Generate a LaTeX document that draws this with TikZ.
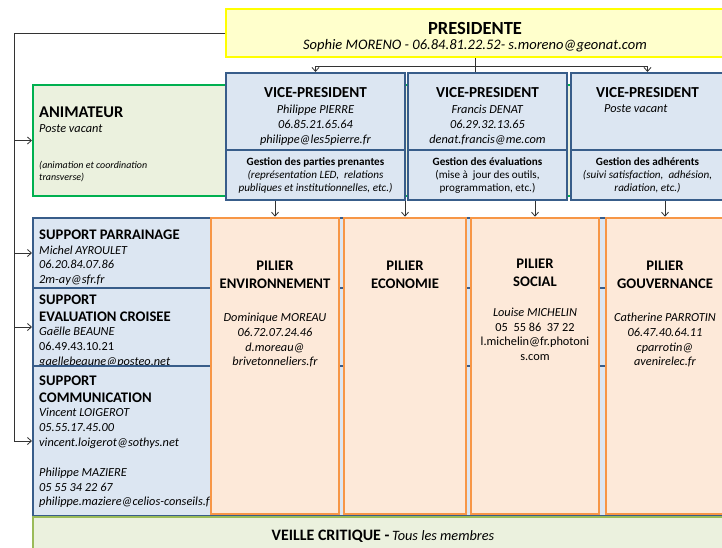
\documentclass[tikz,border=0pt]{standalone}
\usepackage{fontspec}
\setmainfont{Carlito}
\usetikzlibrary{positioning,fit,arrows.meta}

\definecolor{jauneF}{HTML}{FFFFCC}
\definecolor{jauneB}{HTML}{FFFF00}
\definecolor{bleuF}{HTML}{DCE6F2}
\definecolor{bleuB}{HTML}{385D8A}
\definecolor{vertF}{HTML}{EBF1DE}
\definecolor{vertB}{HTML}{00B050}
\definecolor{olivB}{HTML}{9BBB59}
\definecolor{orangeF}{HTML}{FDE9D9}
\definecolor{orangeB}{HTML}{F79646}

\newcommand{\fpres}{\fontsize{15.8}{18}\selectfont\bfseries}
\newcommand{\fvice}{\fontsize{13}{15.4}\selectfont\bfseries}
\newcommand{\ftitre}{\fontsize{12.5}{15.2}\selectfont\bfseries}
\newcommand{\fcorps}{\fontsize{10.5}{12.7}\selectfont}
\newcommand{\fpetit}{\fontsize{9.5}{11.5}\selectfont}
\newcommand{\fnote}{\fontsize{8.5}{10.2}\selectfont}

\begin{document}
\begin{tikzpicture}[x=0.03cm,y=-0.03cm,
	every node/.style={inner sep=0pt},
	cadre/.style={line width=1.7pt},
	pres/.style={cadre,draw=jauneB,fill=jauneF},
	vice/.style={cadre,draw=bleuB,fill=bleuF},
	anim/.style={cadre,draw=vertB,fill=vertF},
	veille/.style={cadre,draw=olivB,fill=vertF},
	pilier/.style={line width=2.2pt,draw=orangeB,fill=orangeF},
	txt/.style={font=\fcorps,align=center,anchor=north},
	txtg/.style={font=\fcorps,align=left,anchor=north west},
	lien/.style={line width=0.7pt,black!80},
	fleche/.style={lien,-{Straight Barb[length=3.4pt,width=6pt]}}]
	\useasboundingbox (0,0) rectangle (722,547);
	\clip (0,0) rectangle (722,547);

	%% presidente
	\node[pres,fit={(226,9) (724,57)}] (p0) {};
	\node[font=\fpres] (p0a) at (475,28) {PRESIDENTE};
	\node[font=\fontsize{12.4}{14}\selectfont\itshape] (p0b) at (475,46) {Sophie MORENO - 06.84.81.22.52- s.moreno@geonat.com};

	%% animateur
	\node[anim,fit={(33,85) (726,196)}] (an) {};
	\node[txtg] (ana) at (39,107) {{\fontsize{14}{15}\selectfont\bfseries ANIMATEUR}\\ \textit{Poste vacant}};
	\node[txtg,font=\fnote\itshape] (anb) at (39,161) {(animation et coordination\\ transverse)};

	%% vice-presidents
	\node[vice,fit={(226,73) (405,150)}] (v1) {};
	\node[vice,fit={(226,150) (405,200)}] (g1) {};
	\node[vice,fit={(408,73) (567,150)}] (v2) {};
	\node[vice,fit={(408,150) (567,200)}] (g2) {};
	\node[vice,fit={(571,73) (724,150)}] (v3) {};
	\node[vice,fit={(571,150) (724,200)}] (g3) {};

	\node[txt,below=12.9pt of v1.north] (v1a) {{\fvice VICE-PRESIDENT}\\[1pt] \textit{Philippe PIERRE}\\ \textit{06.85.21.65.64}\\ \textit{philippe@les5pierre.fr}};
	\node[txt,below=12.9pt of v2.north] (v2a) {{\fvice VICE-PRESIDENT}\\[1pt] \textit{Francis DENAT}\\ \textit{06.29.32.13.65}\\ \textit{denat.francis@me.com}};
	\node[txt,below=12.9pt of v3.north] (v3a) {{\fvice VICE-PRESIDENT}};
	\node[font=\fcorps\itshape,anchor=west] (v3b) at (604,109) {Poste vacant};

	\node[txt,font=\fpetit,below=6.8pt of g1.north] (g1a) {\textbf{Gestion des parties prenantes}\\ \textit{(représentation LED,~ relations}\\ \textit{publiques et institutionnelles, etc.)}};
	\node[txt,font=\fpetit,below=6.8pt of g2.north] (g2a) {\textbf{Gestion des évaluations}\\ (mise à~ jour des outils,\\ programmation, etc.)};
	\node[txt,font=\fpetit,below=6.8pt of g3.north] (g3a) {\textbf{Gestion des adhérents}\\ \textit{(suivi satisfaction,~ adhésion,}\\ \textit{radiation, etc.)}};

	%% supports
	\node[vice,fit={(33,218) (726,288)}] (s1) {};
	\node[txtg] (s1a) at (39,230) {{\ftitre SUPPORT PARRAINAGE}\\[-0.6pt] \textit{Michel AYROULET}\\ \textit{06.20.84.07.86}\\ \textit{2m-ay@sfr.fr}};
	\node[vice,fit={(33,288) (726,366)}] (s2) {};
	\node[txtg] (s2a) at (39,294.8) {{\ftitre SUPPORT}\\[1.8pt] {\ftitre EVALUATION CROISEE}\\[-0.6pt] \textit{Gaëlle BEAUNE}\\ 06.49.43.10.21\\ \textit{gaellebeaune@posteo.net}};
	\node[vice,fit={(33,366) (726,516)}] (s3) {};
	\node[txtg] (s3a) at (39,375.6) {{\ftitre SUPPORT}\\[1.8pt] {\ftitre COMMUNICATION}\\[-0.6pt] \textit{Vincent LOIGEROT}\\ \textit{05.55.17.45.00}\\ \textit{vincent.loigerot@sothys.net}\\[12.7pt] \textit{Philippe MAZIERE}\\ \textit{05 55 34 22 67}\\ \textit{philippe.maziere@celios-conseils.fr}};

	%% piliers
	\node[pilier,fit={(211,218) (339,514)}] (l1) {};
	\node[pilier,fit={(344,218) (466,514)}] (l2) {};
	\node[pilier,fit={(471,218) (599,514)}] (l3) {};
	\node[pilier,fit={(606,218) (724,514)}] (l4) {};
	\node[txt,font=\ftitre,below=38pt of l1.north] (l1a) {PILIER\\ ENVIRONNEMENT};
	\node[txt,font=\ftitre,below=38pt of l2.north] (l2a) {PILIER\\ ECONOMIE};
	\node[txt,font=\ftitre,below=36.2pt of l3.north] (l3a) {PILIER\\ SOCIAL};
	\node[txt,font=\ftitre,below=38pt of l4.north] (l4a) {PILIER\\ GOUVERNANCE};
	\node[txt,font=\fcorps\itshape,below=20pt of l1a] (l1b) {Dominique MOREAU\\ 06.72.07.24.46\\ d.moreau@\\ brivetonneliers.fr};
	\node[txt,below=17.5pt of l3a] (l3b) {\textit{Louise MICHELIN}\\ 05~ 55 86~ 37 22\\ l.michelin@fr.photoni\\ s.com};
	\node[txt,font=\fcorps\itshape,below=20pt of l4a] (l4b) {Catherine PARROTIN\\ 06.47.40.64.11\\ cparrotin@\\ avenirelec.fr};

	%% veille
	\node[veille,fit={(33,517) (726,560)}] (ve) {};
	\node (vea) at (383,536) {{\fontsize{13.6}{15}\selectfont\bfseries VEILLE CRITIQUE -} {\fontsize{12.2}{14}\selectfont\itshape Tous les membres}};

	% liaisons
	\coordinate (g0) at (14,33);
	\coordinate (h0) at (475,66);
	\draw[fleche] (p0.west) -- (g0) |- (s3.west);
	\draw[fleche] (g0 |- an.west) -- (an.west);
	\draw[fleche] (g0 |- s1.west) -- (s1.west);
	\draw[fleche] (g0 |- s2.west) -- (s2.west);
	\draw[lien] (p0.south) -- (p0.south |- v2.north);
	\draw[lien] (h0 -| v1.north) -- (h0 -| v3.north);
	\draw[fleche] (h0 -| v1.north) -- (v1.north);
	\draw[fleche] (h0 -| v3.north) -- (v3.north);
	\draw[fleche] (g1.south -| l1.north) -- (l1.north);
	\draw[fleche] (g1.south -| l2.north) -- (l2.north);
	\draw[fleche] (g2.south -| l3.north) -- (l3.north);
	\draw[fleche] (g3.south -| l4.north) -- (l4.north);
\end{tikzpicture}
\end{document}
